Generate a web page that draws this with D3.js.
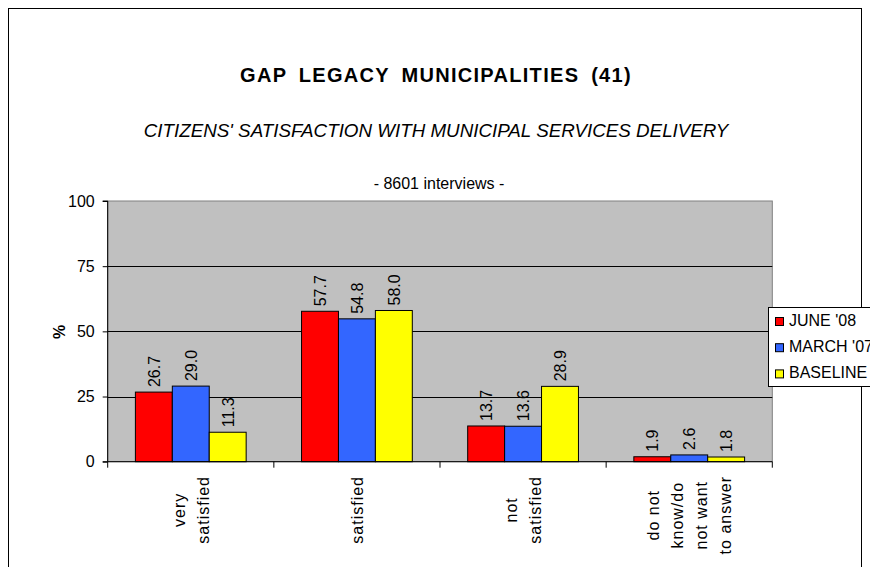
<!DOCTYPE html>
<html>
<head>
<meta charset="utf-8">
<script src="https://cdn.jsdelivr.net/npm/d3@7"></script>
<style>
  html, body { margin: 0; padding: 0; background: #fff; }
  svg { display: block; font-family: "Liberation Sans", Arial, sans-serif; }
</style>
</head>
<body>
<svg id="chart" width="870" height="567"></svg>
<script>
// ---- data ----
const categories = [
  ["very", "satisfied"],
  ["satisfied"],
  ["not", "satisfied"],
  ["do not", "know/do", "not want", "to answer"]
];
const seriesNames = ["JUNE '08", "MARCH '07", "BASELINE"];
const seriesColors = ["#ff0000", "#3366ff", "#ffff00"];
const june08   = [26.7, 57.7, 13.7, 1.9];
const march07  = [29.0, 54.8, 13.6, 2.6];
const baseline = [11.3, 58.0, 28.9, 1.8];
const yTicks = [0, 25, 50, 75, 100];
const titleText = "GAP LEGACY MUNICIPALITIES (41)";
const subtitleText = "CITIZENS' SATISFACTION WITH MUNICIPAL SERVICES DELIVERY";
const noteText = "- 8601 interviews -";

const seriesValues = [june08, march07, baseline];
const catKeys = categories.map((c, i) => "c" + i);

// ---- layout ----
const svg = d3.select("#chart");
const plot = { left: 107.7, right: 772.3, top: 201, bottom: 461.7 };

// outer chart frame
svg.append("rect")
  .attr("x", 8.5).attr("y", 8.5)
  .attr("width", 853).attr("height", 600)
  .attr("fill", "#fff").attr("stroke", "#000").attr("stroke-width", 1);

// titles
const cx = 436;
svg.append("text").attr("x", cx).attr("y", 82)
  .attr("text-anchor", "middle")
  .style("font-size", "20px").style("font-weight", "bold")
  .style("letter-spacing", "1.3px").style("word-spacing", "5px")
  .text(titleText);
svg.append("text").attr("x", cx).attr("y", 137)
  .attr("text-anchor", "middle")
  .style("font-size", "18.8px").style("font-style", "italic")
  .text(subtitleText);
svg.append("text").attr("x", cx + 3).attr("y", 189)
  .attr("text-anchor", "middle")
  .style("font-size", "16px")
  .text(noteText);

// scales
const y = d3.scaleLinear().domain([0, 100]).range([plot.bottom, plot.top]);
const x0 = d3.scaleBand().domain(catKeys).range([plot.left, plot.right]).padding(0);
const x1 = d3.scaleBand().domain(seriesNames).range([0, x0.bandwidth()])
  .paddingInner(0).paddingOuter(0.75);

// plot background
svg.append("rect")
  .attr("x", plot.left).attr("y", plot.top)
  .attr("width", plot.right - plot.left).attr("height", plot.bottom - plot.top)
  .attr("fill", "#c0c0c0").attr("stroke", "#808080").attr("stroke-width", 1);

// gridlines
svg.append("g").selectAll("line").data(yTicks.filter(d => d > 0 && d < 100)).join("line")
  .attr("x1", plot.left).attr("x2", plot.right)
  .attr("y1", d => Math.round(y(d)) + 0.5).attr("y2", d => Math.round(y(d)) + 0.5)
  .attr("stroke", "#000").attr("stroke-width", 1);

// y axis
const yAxis = d3.axisLeft(y).tickValues(yTicks).tickSize(5).tickPadding(8).tickFormat(d3.format("d"));
const gy = svg.append("g").attr("transform", `translate(${plot.left},0)`).call(yAxis);
gy.selectAll("text").style("font-size", "16px").attr("fill", "#000")
  .style("font-family", "'Liberation Sans', Arial, sans-serif");
gy.selectAll("line, path").attr("stroke", "#000");
gy.select(".domain").attr("d", `M-5,${y(100)}H0V${y(0)}H-5`);

// bars
const groups = svg.append("g").selectAll("g").data(catKeys).join("g")
  .attr("transform", d => `translate(${x0(d)},0)`);
groups.each(function(ck, ci) {
  const g = d3.select(this);
  const rows = seriesNames.map((s, si) => ({ s, si, v: seriesValues[si][ci] }));
  g.selectAll("rect").data(rows).join("rect")
    .attr("x", d => x1(d.s)).attr("width", x1.bandwidth())
    .attr("y", d => y(d.v)).attr("height", d => y(0) - y(d.v))
    .attr("fill", d => seriesColors[d.si])
    .attr("stroke", "#000").attr("stroke-width", 1);
  g.selectAll("text").data(rows).join("text")
    .attr("transform", d => `translate(${x1(d.s) + x1.bandwidth() / 2 + 6},${y(d.v) - 5}) rotate(-90)`)
    .attr("text-anchor", "start")
    .style("font-size", "16px").attr("fill", "#000")
    .text(d => d.v.toFixed(1));
});

// x axis
const xAxisG = svg.append("g");
xAxisG.append("line")
  .attr("x1", plot.left).attr("x2", plot.right)
  .attr("y1", plot.bottom).attr("y2", plot.bottom).attr("stroke", "#000");
const bounds = catKeys.map(k => x0(k)).concat([plot.right]);
xAxisG.selectAll(".tk").data(bounds).join("line").attr("class", "tk")
  .attr("x1", d => d).attr("x2", d => d)
  .attr("y1", plot.bottom).attr("y2", plot.bottom + 6).attr("stroke", "#000");

// category labels (rotated, multi-line)
const labelTop = 476;
const lineGap = 24;
categories.forEach((lines, ci) => {
  const cxBand = x0(catKeys[ci]) + x0.bandwidth() / 2;
  const g = svg.append("g");
  const texts = lines.map((ln, li) => g.append("text")
    .attr("text-anchor", "middle")
    .style("font-size", "16px").style("letter-spacing", "1px")
    .text(ln));
  const maxLen = d3.max(texts, t => t.node().getComputedTextLength());
  const cy = labelTop + maxLen / 2;
  texts.forEach((t, li) => {
    const xx = cxBand + 6 + (li - (lines.length - 1) / 2) * lineGap;
    t.attr("transform", `translate(${xx},${cy}) rotate(-90)`);
  });
});

// y axis title
svg.append("text")
  .attr("transform", `translate(65,332) rotate(-90)`)
  .attr("text-anchor", "middle")
  .style("font-size", "16px").style("font-weight", "bold")
  .text("%");

// legend
const lg = svg.append("g");
lg.append("rect").attr("x", 768.5).attr("y", 307.5).attr("width", 140).attr("height", 79)
  .attr("fill", "#fff").attr("stroke", "#000");
seriesNames.forEach((s, i) => {
  const by = 326 + i * 26.2;
  lg.append("rect").attr("x", 775.5).attr("y", by - 8.5).attr("width", 8).attr("height", 8)
    .attr("fill", seriesColors[i]).attr("stroke", "#000");
  lg.append("text").attr("x", 789).attr("y", by)
    .style("font-size", "16px").text(s);
});
</script>
</body>
</html>
